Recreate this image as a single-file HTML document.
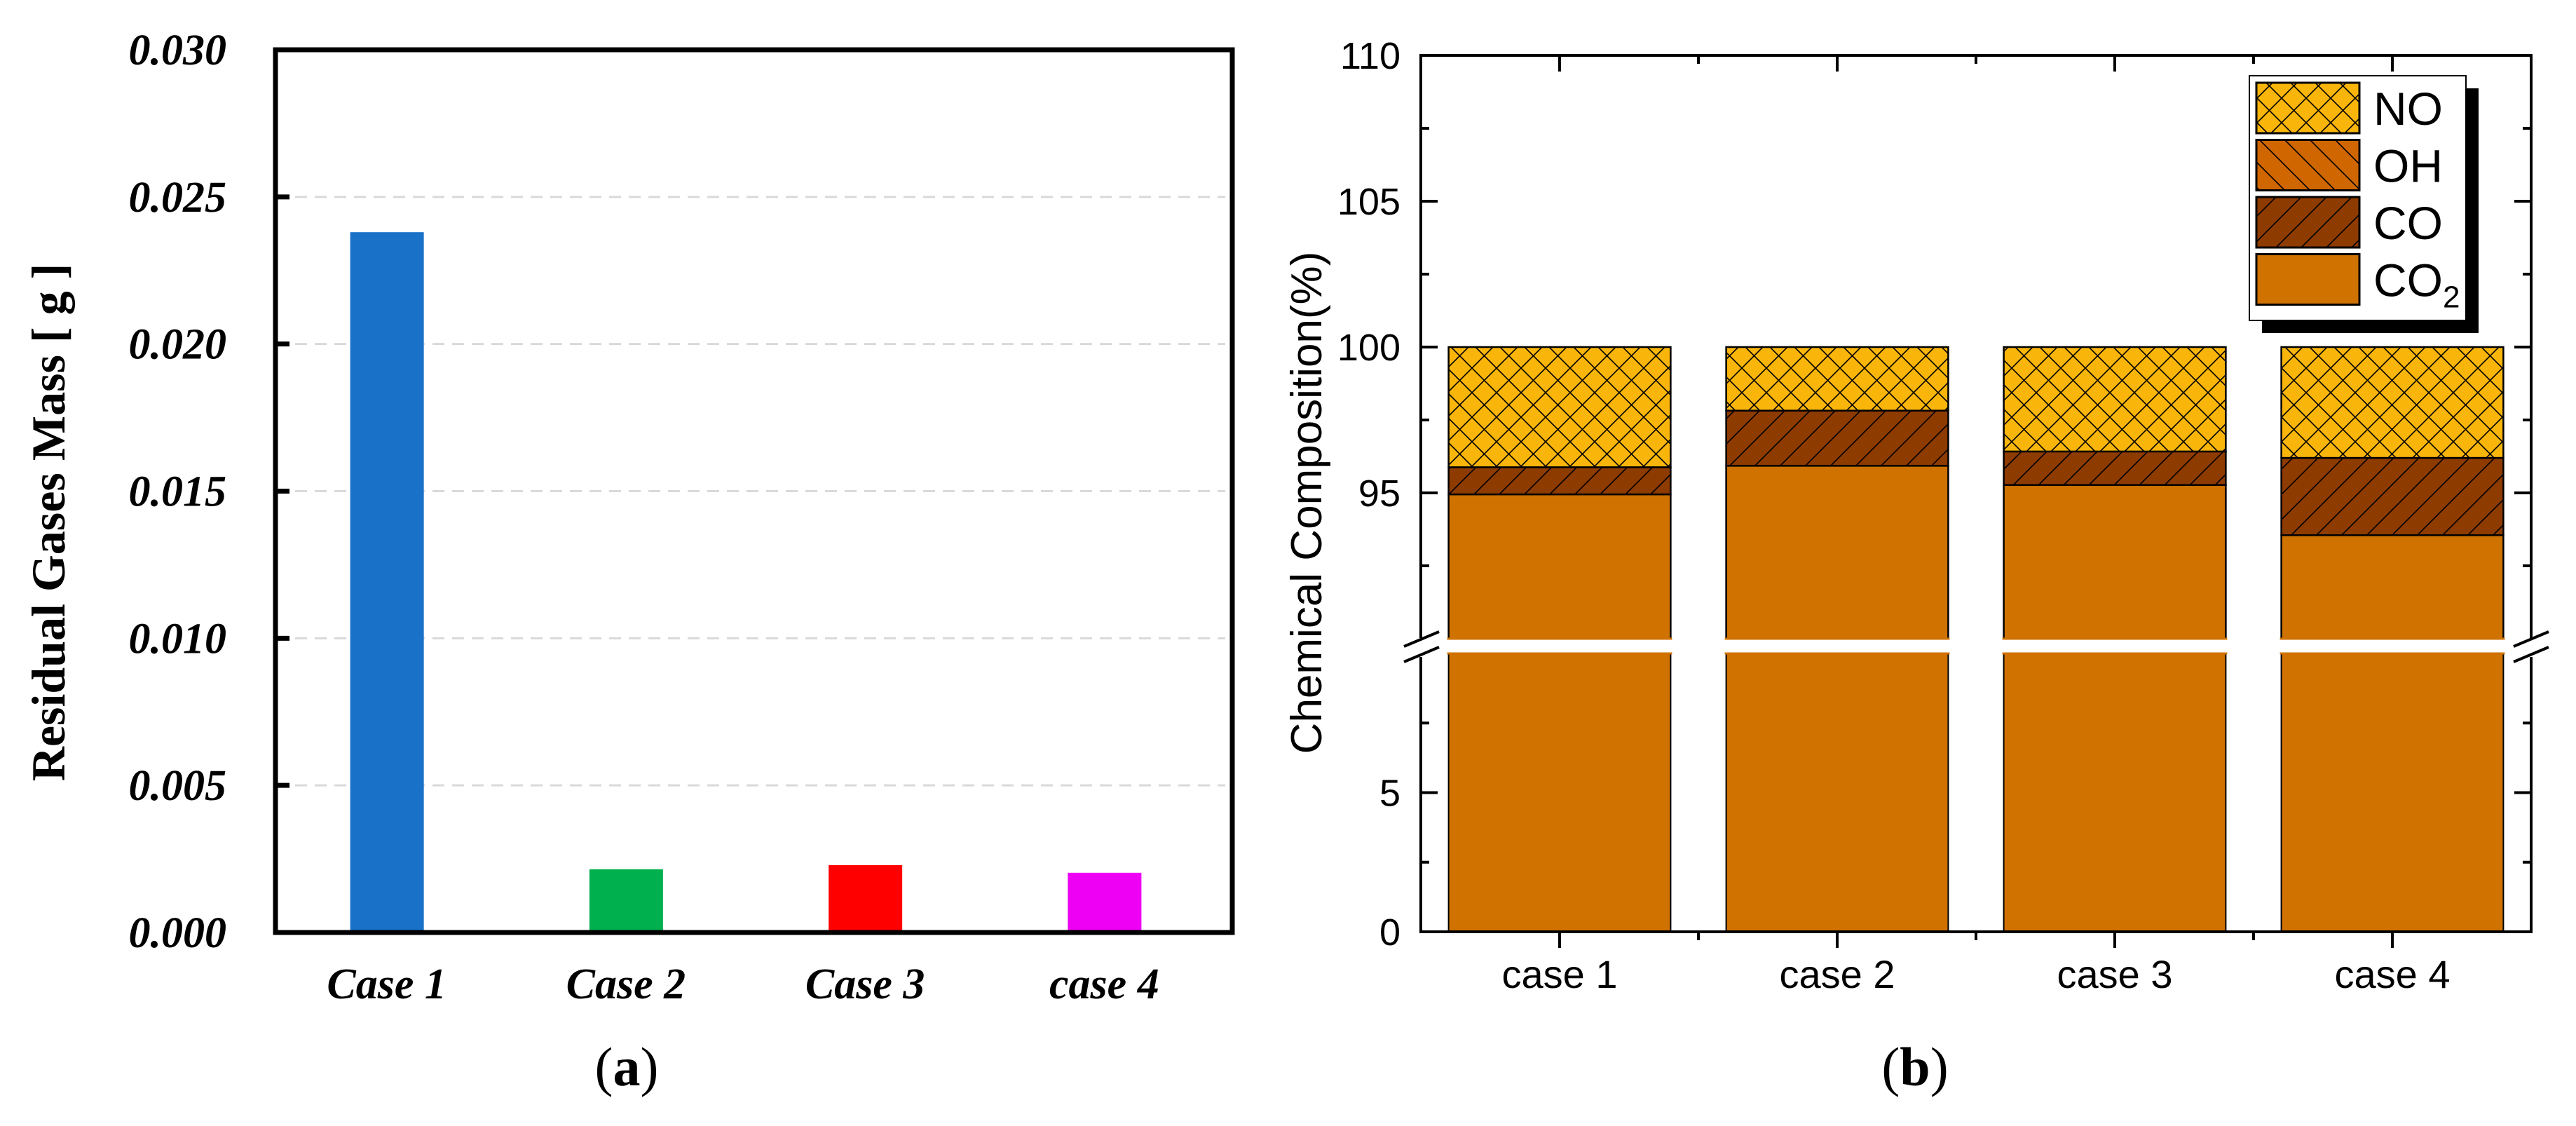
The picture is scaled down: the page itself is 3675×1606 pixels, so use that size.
<!DOCTYPE html>
<html><head><meta charset="utf-8"><style>
html,body{margin:0;padding:0;background:#fff;}
svg{display:block;}
</style></head><body>
<svg id="fig" width="3675" height="1606" viewBox="0 0 3675 1606" xmlns="http://www.w3.org/2000/svg">
<defs>
<pattern id="hatchX" patternUnits="userSpaceOnUse" width="35" height="35">
<rect width="35" height="35" fill="#F9B50A"/>
<path d="M0,0L35,35M35,0L0,35" stroke="#000" stroke-width="1.6"/>
</pattern>
<pattern id="hatchF" patternUnits="userSpaceOnUse" width="36" height="36">
<rect width="36" height="36" fill="#8E3B00"/>
<path d="M0,36L36,0M-9,9L9,-9M27,45L45,27" stroke="#000" stroke-width="1.6"/>
</pattern>
<pattern id="hatchB" patternUnits="userSpaceOnUse" width="36" height="36">
<rect width="36" height="36" fill="#D06600"/>
<path d="M0,0L36,36M-9,27L9,45M27,-9L45,9" stroke="#000" stroke-width="1.6"/>
</pattern>
</defs>
<g id="chartA"></g>
<g id="chartB"></g>
<text x="894" y="1548" font-family="Liberation Serif, serif" font-size="78" text-anchor="middle">(<tspan font-weight="bold">a</tspan>)</text>
<text x="2732" y="1548" font-family="Liberation Serif, serif" font-size="78" text-anchor="middle">(<tspan font-weight="bold">b</tspan>)</text>
</svg>
<script>
// ---- Chart A data ----
const catsA = ["Case 1", "Case 2", "Case 3", "case 4"];
const massA = [0.0238, 0.00215, 0.00229, 0.00203];
const colorsA = ["#1971C8", "#00B04F", "#FF0000", "#EE00F5"];
const ticksA = [0, 0.005, 0.010, 0.015, 0.020, 0.025, 0.030];
const tickLabelsA = ["0.000", "0.005", "0.010", "0.015", "0.020", "0.025", "0.030"];

// ---- Chart B data ----
const catsB = ["case 1", "case 2", "case 3", "case 4"];
const co2B = [94.95, 95.93, 95.27, 93.55];
const coB = [0.93, 1.89, 1.15, 2.65];
const ohB = [0, 0, 0, 0];
const noB = [4.12, 2.18, 3.58, 3.80];
const ticksUpperB = [95, 100, 105, 110];
const ticksLowerB = [0, 5];
const legendLabelsB = ["NO", "OH", "CO", "CO2"];

const NS = "http://www.w3.org/2000/svg";
function mk(tag, attrs, parent, text) {
  const e = document.createElementNS(NS, tag);
  for (const k in attrs) e.setAttribute(k, attrs[k]);
  if (text !== undefined) e.textContent = text;
  parent.appendChild(e);
  return e;
}

// ================= Chart A =================
(function () {
  const g = document.getElementById("chartA");
  const L = 393, R = 1758, T = 71, B = 1330;
  const yA = v => B - (v / 0.030) * (B - T);
  const step = (R - L) / catsA.length;
  const xA = i => L + step * (i + 0.5) - 12;
  ticksA.forEach((t, i) => {
    if (i === 0 || i === ticksA.length - 1) return;
    const gl = mk("line", {x1: L + 28, x2: R - 10, y1: yA(t), y2: yA(t), stroke: "#d9d9d9", "stroke-width": 3, "stroke-dasharray": "17 11"}, g);
    
    
  });
  massA.forEach((v, i) => {
    const r = mk("rect", {x: xA(i) - 52, y: yA(v), width: 105, height: B - yA(v), fill: colorsA[i]}, g);
    
    
    const lb = mk("text", {x: xA(i), y: 1424, "font-family": "Liberation Serif, serif", "font-size": 62, "font-weight": "bold", "font-style": "italic", "text-anchor": "middle"}, g, catsA[i]);
    
    
  });
  const fr = mk("rect", {x: L, y: T, width: R - L, height: B - T, fill: "none", stroke: "#000", "stroke-width": 7}, g);
  
  
  ticksA.forEach((t, i) => {
    const tk = mk("line", {x1: L, x2: L + 20, y1: yA(t), y2: yA(t), stroke: "#000", "stroke-width": 7}, g);
    
    
    const tl = mk("text", {x: 323, y: yA(t) + 21, "font-family": "Liberation Serif, serif", "font-size": 62, "font-weight": "bold", "font-style": "italic", "text-anchor": "end"}, g, tickLabelsA[i]);
    
    
  });
  const yt = mk("text", {x: 0, y: 0, transform: "translate(92,745) rotate(-90)", "font-family": "Liberation Serif, serif", "font-size": 68, "font-weight": "bold", "text-anchor": "middle"}, g, "Residual Gases Mass [ g ]");
  
  
})();

// ================= Chart B =================
(function () {
  const g = document.getElementById("chartB");
  const L = 2027, R = 3611, T = 79, B = 1329;
  const yU = v => 495 - (v - 100) * 41.6;   // 90..110
  const yL = v => B - v * 39.7;             // 0..10
  const step = (R - L) / catsB.length;
  const xC = i => L + step * (i + 0.5);
  const bw = step * 0.8;
  const font = "Liberation Sans, Arial, sans-serif";
  catsB.forEach((c, i) => {
    const x0 = xC(i) - bw / 2;
    const lo = mk("rect", {x: x0, y: yL(10), width: bw, height: yL(0) - yL(10), fill: "#CF7200", stroke: "#000", "stroke-width": 2}, g);
    
    
    mk("line", {x1: x0 - 2, x2: x0 + bw + 2, y1: yL(10), y2: yL(10), stroke: "#CF7200", "stroke-width": 3}, g);
    let base = 0;
    const segs = [[co2B[i], "#CF7200", "co2"], [coB[i], "url(#hatchF)", "co"], [ohB[i], "url(#hatchB)", "oh"], [noB[i], "url(#hatchX)", "no"]];
    segs.forEach(s => {
      const to = base + s[0];
      if (s[0] > 0 && to > 90) {
        const from = Math.max(base, 90);
        const r = mk("rect", {x: x0, y: yU(to), width: bw, height: yU(from) - yU(to), fill: s[1], stroke: "#000", "stroke-width": 2.5}, g);
        
        
      }
      base = to;
    });
    mk("line", {x1: x0 - 2, x2: x0 + bw + 2, y1: yU(90), y2: yU(90), stroke: "#CF7200", "stroke-width": 3}, g);
    const lb = mk("text", {x: xC(i), y: 1409, "font-family": font, "font-size": 56, "text-anchor": "middle"}, g, c);
    
    
    mk("line", {x1: xC(i), x2: xC(i), y1: B, y2: B + 23, stroke: "#000", "stroke-width": 4}, g);
    mk("line", {x1: xC(i), x2: xC(i), y1: T, y2: T + 23, stroke: "#000", "stroke-width": 4}, g);
    if (i > 0) {
      const xm = L + step * i;
      mk("line", {x1: xm, x2: xm, y1: B, y2: B + 12, stroke: "#000", "stroke-width": 4}, g);
      mk("line", {x1: xm, x2: xm, y1: T, y2: T + 12, stroke: "#000", "stroke-width": 4}, g);
    }
  });
  const ax = [
    [L, T, L, 910], [L, 937, L, B], [R, T, R, 910], [R, 937, R, B], [L - 2, T, R + 2, T], [L - 2, B, R + 2, B]
  ];
  ax.forEach(a => {
    const l = mk("line", {x1: a[0], y1: a[1], x2: a[2], y2: a[3], stroke: "#000", "stroke-width": 4}, g);
    
    
  });
  [L - 24, R - 25].forEach(x => {
    [0, 22].forEach(dy => {
      const s = mk("line", {x1: x, y1: 922 + dy, x2: x + 50, y2: 901 + dy, stroke: "#000", "stroke-width": 4}, g);
      
      
    });
  });
  const yTick = (y, len) => {
    mk("line", {x1: L, x2: L + len, y1: y, y2: y, stroke: "#000", "stroke-width": 4}, g);
    mk("line", {x1: R, x2: R - len, y1: y, y2: y, stroke: "#000", "stroke-width": 4}, g);
  };
  ticksUpperB.forEach(t => {
    yTick(yU(t), 24);
    yTick(yU(t - 2.5), 12);
    const tl = mk("text", {x: 1998, y: yU(t) + 19, "font-family": font, "font-size": 54, "text-anchor": "end"}, g, String(t));
    
    
  });
  ticksLowerB.forEach(t => {
    yTick(yL(t), 24);
    yTick(yL(t + 2.5), 12);
    const tl = mk("text", {x: 1998, y: yL(t) + 19, "font-family": font, "font-size": 54, "text-anchor": "end"}, g, String(t));
    
    
  });
  const yt = mk("text", {x: 0, y: 0, transform: "translate(1885,717) rotate(-90)", "font-family": font, "font-size": 62, "text-anchor": "middle"}, g, "Chemical Composition(%)");
  
  
  const lg = mk("g", {}, g);
  
  
  mk("rect", {x: 3227, y: 126, width: 309, height: 349, fill: "#000"}, lg);
  mk("rect", {x: 3209, y: 108, width: 309, height: 349, fill: "#fff", stroke: "#000", "stroke-width": 2}, lg);
  const fills = ["url(#hatchX)", "url(#hatchB)", "url(#hatchF)", "#CF7200"];
  legendLabelsB.forEach((lab, i) => {
    const y0 = 118 + i * 81.5;
    const e = mk("g", {}, lg);
    
    
    mk("rect", {x: 3219, y: y0, width: 147, height: 72, fill: fills[i], stroke: "#000", "stroke-width": 3}, e);
    const t = mk("text", {x: 3386, y: y0 + 60, "font-family": font, "font-size": 66}, e);
    if (lab === "CO2") {
      t.textContent = "CO";
      mk("tspan", {"font-size": 44, dy: 16}, t, "2");
    } else {
      t.textContent = lab;
    }
  });
})();
</script>
</body></html>
